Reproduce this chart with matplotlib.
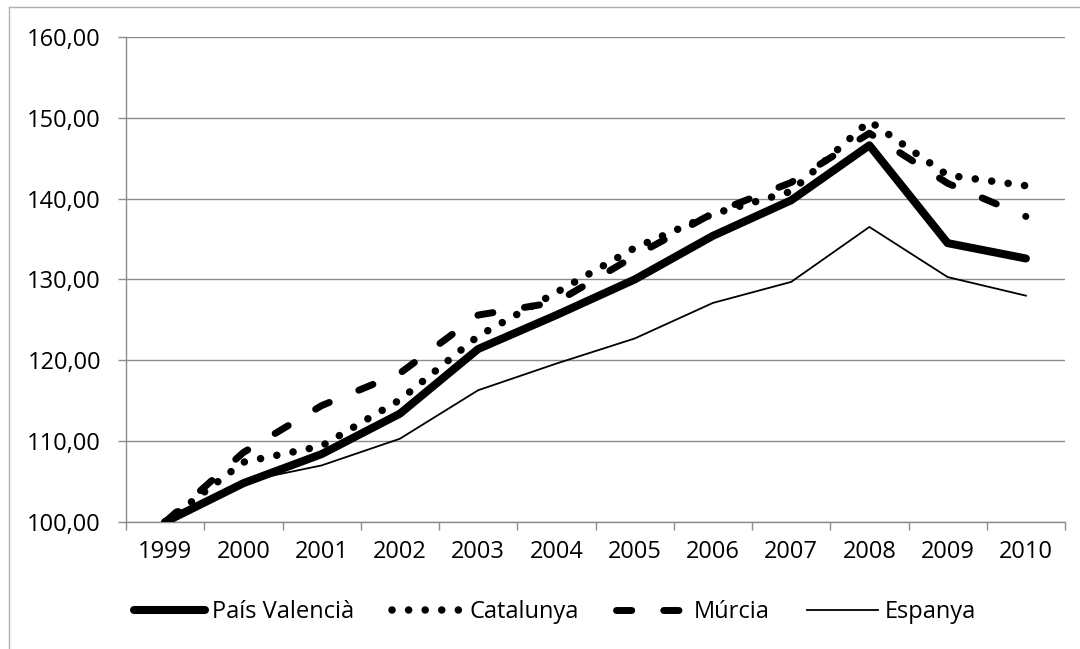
import matplotlib
matplotlib.use("Agg")
import matplotlib.pyplot as plt
from matplotlib.lines import Line2D

plt.rcParams['font.family'] = ['Open Sans', 'DejaVu Sans']

years = ['1999', '2000', '2001', '2002', '2003', '2004', '2005', '2006',
         '2007', '2008', '2009', '2010']
pais_valencia = [100.0, 104.8, 108.4, 113.4, 121.4, 125.6, 130.0, 135.4,
                 139.8, 146.6, 134.5, 132.6]
catalunya = [100.0, 107.4, 109.4, 115.1, 123.0, 128.4, 133.9, 138.1,
             140.9, 149.6, 142.9, 141.6]
murcia = [100.0, 108.6, 114.4, 118.4, 125.6, 127.2, 132.9, 138.2,
          142.0, 148.1, 141.9, 137.8]
espanya = [100.0, 105.0, 107.0, 110.3, 116.3, 119.6, 122.7, 127.1,
           129.7, 136.5, 130.3, 128.0]

W, H = 1080, 649
fig = plt.figure(figsize=(W / 100, H / 100), dpi=100)
ax = fig.add_axes([126 / W, 1 - 522 / H, (1065 - 126) / W, (522 - 37) / H])

x = list(range(len(years)))
grey = '#8c8c8c'

ax.plot(x, pais_valencia, color='black', lw=5.8, solid_capstyle='round',
        solid_joinstyle='round', label='País Valencià', zorder=3)
ax.plot(x, catalunya, color='black', lw=5.4, linestyle=(0, (0.01, 2.2)),
        dash_capstyle='round', label='Catalunya', zorder=4)
ax.plot(x, murcia, color='black', lw=5.0, linestyle=(0, (2.2, 4.6)),
        dash_capstyle='round', label='Múrcia', zorder=4)
ax.plot(x, espanya, color='black', lw=1.3, label='Espanya', zorder=3)

ax.set_ylim(100, 160)
ax.set_yticks(range(100, 161, 10))
ax.set_yticklabels(['%d,00' % v for v in range(100, 161, 10)])
ax.yaxis.grid(True, color=grey, lw=1)
ax.set_axisbelow(True)

ax.set_xlim(-0.5, len(years) - 0.5)
ax.set_xticks([i - 0.5 for i in range(len(years) + 1)])
ax.set_xticklabels([])
ax.set_xticks(x, minor=True)
ax.set_xticklabels(years, minor=True)

ax.tick_params(axis='y', length=6, width=1, color=grey, pad=12, labelsize=17)
ax.tick_params(axis='x', which='major', length=6, width=1, color=grey, direction='out')
ax.tick_params(axis='x', which='minor', length=0, pad=13, labelsize=17)

for s in ['top', 'right']:
    ax.spines[s].set_visible(False)
for s in ['left', 'bottom']:
    ax.spines[s].set_color(grey)
    ax.spines[s].set_linewidth(1)

fig.legend(loc='center', bbox_to_anchor=(0.514, 1 - 612 / H), ncol=4,
           frameon=False, fontsize=17, handlelength=3.0,
           handletextpad=0.28, columnspacing=1.6)

# chart area border
border = '#b0b0b0'
fig.add_artist(Line2D([9 / W, 1], [1 - 7 / H, 1 - 7 / H], color=border, lw=1,
                      transform=fig.transFigure))
fig.add_artist(Line2D([9 / W, 9 / W], [0, 1 - 7 / H], color=border, lw=1,
                      transform=fig.transFigure))

fig.savefig('out.png', dpi=100)
